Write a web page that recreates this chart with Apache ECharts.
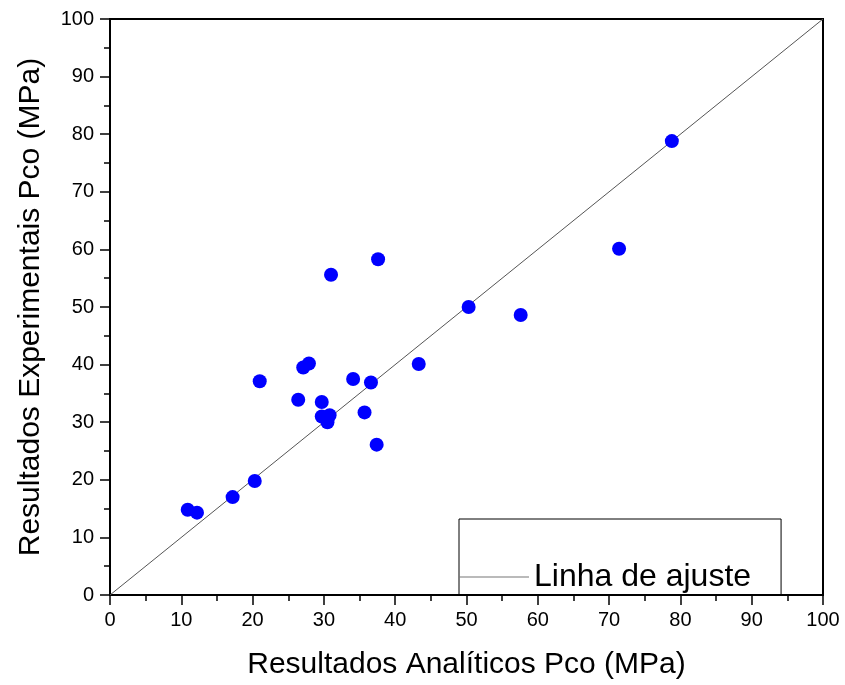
<!DOCTYPE html>
<html>
<head>
<meta charset="utf-8">
<script src="https://cdn.jsdelivr.net/npm/echarts@6/dist/echarts.min.js"></script>
<style>
  html, body { margin: 0; padding: 0; background: #fff; }
  #chart { width: 845px; height: 685px; }
</style>
</head>
<body>
<div id="chart"></div>
<script>
// analytical (x) vs experimental (y) values, MPa
const analiticos = [10.9, 12.2, 17.2, 20.3, 21.0, 26.4, 27.1, 27.9, 29.7, 29.7, 30.8, 30.5,
  34.1, 36.6, 35.7, 37.4, 43.3, 31.0, 37.6, 50.3, 57.6, 71.4, 78.8];
const experimentais = [14.8, 14.3, 17.0, 19.8, 37.1, 33.9, 39.5, 40.2, 33.5, 31.0, 31.2, 30.0,
  37.5, 36.9, 31.7, 26.1, 40.1, 55.6, 58.3, 50.0, 48.6, 60.1, 78.8];
const ajusteX = [0, 100];
const ajusteY = [0, 100];

const font = '"Liberation Sans", Arial, sans-serif';

const chart = echarts.init(document.getElementById('chart'));

const pontos = analiticos.map((v, i) => [v, experimentais[i]]);
const ajuste = ajusteX.map((v, i) => [v, ajusteY[i]]);

function eixo(nome, gap, margem) {
  return {
    type: 'value',
    min: 0,
    max: 100,
    interval: 10,
    name: nome,
    nameLocation: 'middle',
    nameGap: gap,
    nameTextStyle: { fontFamily: font, fontSize: 30, color: '#000' },
    axisLine: { show: true, onZero: false, lineStyle: { color: '#000', width: 2 } },
    axisTick: { show: true, inside: false, length: 10, lineStyle: { color: '#000', width: 1.5 } },
    minorTick: { show: true, splitNumber: 2, length: 6, lineStyle: { color: '#000', width: 1.5 } },
    axisLabel: { fontFamily: font, fontSize: 20, color: '#000', margin: margem },
    splitLine: { show: false }
  };
}

const option = {
  backgroundColor: '#fff',
  animation: false,
  grid: {
    left: 110, right: 22, top: 19, bottom: 90,
    show: true, borderColor: '#000', borderWidth: 2
  },
  xAxis: eixo('Resultados Analíticos Pco (MPa)', 55, 15),
  yAxis: eixo('Resultados Experimentais Pco (MPa)', 64, 16),
  legend: {
    left: 459,
    top: 519,
    orient: 'vertical',
    data: [{ name: 'Linha de ajuste', icon: 'rect' }],
    itemWidth: 70,
    itemHeight: 1,
    padding: [42, 30, 2, 0],
    borderColor: '#000',
    borderWidth: 1,
    itemStyle: { color: '#777' },
    textStyle: { fontFamily: font, fontSize: 32, color: '#000' }
  },
  series: [
    {
      name: 'Linha de ajuste',
      type: 'line',
      data: ajuste,
      symbol: 'none',
      lineStyle: { color: '#555', width: 1 },
      z: 2
    },
    {
      name: 'dados',
      type: 'scatter',
      data: pontos,
      symbol: 'circle',
      symbolSize: 14,
      itemStyle: { color: '#0000ff', opacity: 1 },
      z: 3
    }
  ]
};

chart.setOption(option);
</script>
</body>
</html>
